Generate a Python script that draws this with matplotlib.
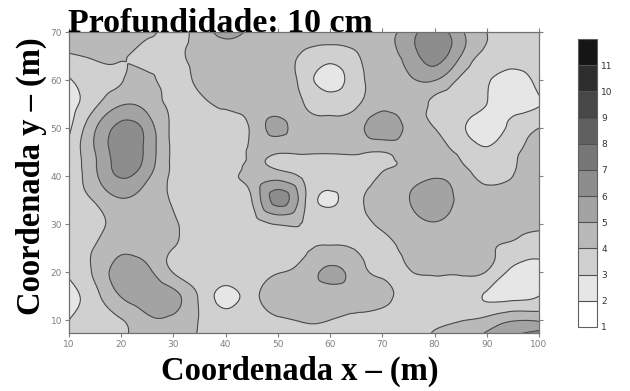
import numpy as np
import matplotlib
matplotlib.use("Agg")
import matplotlib.pyplot as plt
import matplotlib.tri as mtri

# Sampling grid (m)
x_coords = [10, 15, 20, 25, 30, 35, 40, 45, 50, 55, 60, 65, 70, 75, 80, 85, 90, 95, 100]
y_coords = [70, 65, 60, 55, 50, 45, 42.5, 40, 35, 30, 25, 20, 15, 10, 5]

# Measured values, one row per y coordinate (top to bottom)
row_y70 = [4.4, 4.5, 4.5, 4.3, 3.7, 4.4, 5.3, 4.8, 4.5, 4.4, 4.7, 4.4, 4.6, 5.5, 6.4, 5.2, 4.0, 3.5, 3.5]
row_y65 = [3.9, 4.1, 4.1, 3.7, 3.8, 4.3, 4.6, 4.5, 4.4, 3.85, 3.4, 3.9, 4.6, 5.4, 6.4, 5.0, 3.7, 3.5, 3.5]
row_y60 = [2.9, 3.6, 3.95, 4.2, 3.7, 4.2, 4.5, 4.6, 4.5, 3.6, 2.6, 3.6, 4.4, 4.8, 5.05, 3.8, 3.1, 2.6, 3.4]
row_y55 = [2.6, 3.8, 4.9, 4.6, 3.8, 3.8, 4.2, 4.5, 4.6, 4.0, 3.6, 3.9, 4.6, 4.6, 3.8, 3.4, 3.0, 2.7, 2.95]
row_y50 = [2.8, 4.9, 6.3, 5.6, 3.8, 3.6, 3.3, 4.2, 5.2, 4.4, 4.3, 4.6, 5.6, 4.7, 4.0, 3.2, 2.6, 3.3, 4.0]
row_y45 = [3.3, 5.0, 6.5, 5.7, 3.8, 3.5, 3.5, 4.15, 4.1, 4.1, 4.1, 4.1, 4.0, 4.4, 4.3, 3.8, 3.2, 3.8, 4.3]
row_y42 = [3.3, 4.9, 6.4, 5.6, 3.8, 3.5, 3.7, 4.1, 3.8, 3.6, 3.5, 3.6, 3.8, 4.2, 4.6, 4.1, 3.5, 3.9, 4.4]
row_y40 = [3.3, 4.8, 6.1, 5.2, 3.8, 3.5, 3.85, 4.3, 4.5, 3.8, 3.4, 3.5, 4.1, 4.5, 4.9, 4.5, 3.7, 4.0, 4.5]
row_y35 = [3.5, 4.1, 4.9, 4.5, 3.9, 3.5, 3.6, 4.0, 6.4, 4.2, 2.85, 3.7, 4.4, 4.95, 5.6, 4.7, 4.5, 4.5, 4.5]
row_y30 = [3.5, 3.8, 4.3, 4.4, 4.1, 3.6, 3.5, 3.7, 4.05, 3.95, 3.6, 3.8, 4.1, 4.5, 4.9, 4.5, 4.4, 4.3, 4.2]
row_y25 = [3.5, 4.05, 4.75, 4.5, 4.0, 3.5, 3.4, 3.5, 3.6, 3.9, 4.1, 3.95, 3.8, 4.2, 4.4, 4.4, 4.1, 3.8, 3.4]
row_y20 = [3.15, 4.2, 5.5, 5.3, 3.95, 3.5, 3.5, 3.6, 3.95, 4.4, 5.2, 4.5, 3.8, 3.95, 4.1, 4.15, 3.95, 2.7, 2.6]
row_y15 = [2.6, 3.7, 5.05, 5.6, 5.3, 3.85, 2.75, 3.6, 4.5, 4.5, 4.5, 4.5, 4.3, 3.6, 3.5, 3.4, 2.9, 2.7, 3.0]
row_y10 = [3.0, 3.6, 3.95, 4.8, 4.8, 3.95, 3.4, 3.6, 3.9, 4.05, 4.0, 3.8, 3.6, 3.6, 3.8, 3.95, 4.3, 4.9, 4.85]
row_y05 = [3.4, 3.6, 3.9, 4.6, 4.6, 3.8, 3.6, 3.6, 3.8, 3.9, 3.8, 3.7, 3.7, 3.9, 4.1, 4.8, 5.5, 6.2, 7.5]

levels = list(range(1, 13))
level_colors = ["#ffffff", "#e6e6e6", "#d0d0d0", "#b9b9b9", "#a3a3a3", "#8d8d8d",
                "#777777", "#606060", "#474747", "#2e2e2e", "#151515"]
cbar_ticks = list(range(1, 12))
x_ticks = list(range(10, 101, 10))
y_ticks = list(range(10, 71, 10))

Z = np.array([row_y70, row_y65, row_y60, row_y55, row_y50, row_y45, row_y42,
              row_y40, row_y35, row_y30, row_y25, row_y20, row_y15, row_y10, row_y05])
X, Y = np.meshgrid(x_coords, y_coords)

tri = mtri.Triangulation(X.ravel(), Y.ravel())
refiner = mtri.UniformTriRefiner(tri)
tri_f, z_f = refiner.refine_field(Z.ravel(), subdiv=4)

fig = plt.figure(figsize=(6.3, 3.91), dpi=100)
ax = fig.add_axes([69 / 630, 1 - 333 / 391, 470 / 630, 301 / 391])

cs = ax.tricontourf(tri_f, z_f, levels=levels, colors=level_colors)
ax.tricontour(tri_f, z_f, levels=levels, colors="#4a4a4a", linewidths=0.8)

ax.set_xlim(10, 100)
ax.set_ylim(7.3, 70)
ax.set_xticks(x_ticks)
ax.set_yticks(y_ticks)
ax.tick_params(direction="out", top=True, right=True, length=3, width=0.8,
               color="#808080", labelcolor="#808080", labelsize=6.5, pad=2)
for sp in ax.spines.values():
    sp.set_color("#707070")
    sp.set_linewidth(0.9)

serif = dict(family="Liberation Serif", weight="bold")
fig.text(68 / 630, 1 - 32 / 391, "Profundidade: 10 cm", ha="left", va="baseline",
         fontsize=24.5, **serif)
fig.text(300 / 630, 1 - 380 / 391, "Coordenada x – (m)", ha="center", va="baseline",
         fontsize=23.5, **serif)
fig.text(47 / 630, 1 - 176 / 391, "Coordenada y – (m)", ha="right", va="center",
         rotation=90, fontsize=23.5, **serif)

cax = fig.add_axes([578 / 630, 1 - 327 / 391, 19 / 630, 288 / 391])
cb = fig.colorbar(cs, cax=cax, ticks=cbar_ticks, drawedges=True)
cb.outline.set_edgecolor("#606060")
cb.outline.set_linewidth(0.8)
cb.dividers.set_color("#505050")
cb.dividers.set_linewidth(0.8)
cax.tick_params(length=0, labelsize=6.5, labelcolor="#333333", pad=3)

fig.savefig("out.png", dpi=100)
